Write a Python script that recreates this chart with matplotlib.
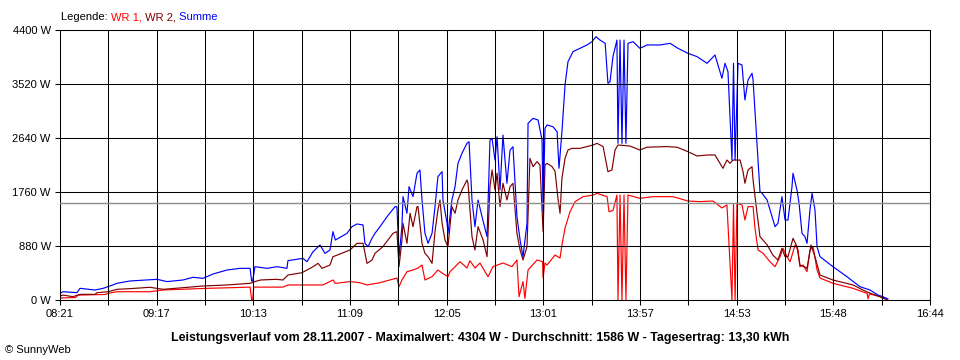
import matplotlib
matplotlib.use("Agg")
import matplotlib.pyplot as plt
import numpy as np

# ---- data (time in minutes since midnight, power in W) ----
wr1_t = [501.0, 510.0, 511.5, 527.0, 529.0, 534.0, 553.0, 560.6, 586.0, 599.3, 610.9, 611.8, 612.4, 613.0,
         629.9, 632.8, 653.1, 658.8, 660.2, 668.7, 674.4, 678.5, 686.0, 695.8, 697.0, 698.7, 701.6, 705.1,
         708.0, 710.3, 712.0, 716.1, 719.5, 721.9, 725.3, 726.5, 732.3, 736.3, 738.0, 740.9, 743.8, 746.7,
         748.5, 751.3, 757.1, 762.3, 765.2, 766.4, 768.7, 769.8, 771.6, 776.8, 780.0, 780.3, 781.4, 782.6,
         787.2, 790.1, 791.2, 793.0, 795.9, 798.8, 803.4, 809.2, 811.5, 817.3, 818.4, 820.7, 823.0, 823.6,
         824.8, 825.9, 827.1, 828.2, 829.4, 836.3, 843.8, 855.4, 864.1, 871.0, 878.5, 883.7, 886.6, 889.5,
         890.4, 891.3, 892.4, 895.3, 897.0, 898.8, 901.7, 902.8, 904.6, 907.5, 911.5, 914.4, 917.3, 919.0,
         921.3, 923.1, 926.0, 927.7, 928.8, 930.6, 932.9, 934.6, 936.4, 938.7, 940.4, 947.9, 959.5, 967.6,
         968.2, 969.0, 975.1, 979.1]
wr1_w = [33, 40, 80, 90, 110, 135, 135, 163, 190, 200, 210, 0, 0, 210,
         210, 245, 245, 326, 270, 300, 282, 245, 282, 358, 217, 326, 461, 489,
         521, 570, 326, 380, 489, 440, 380, 460, 624, 521, 640, 521, 603, 462,
         380, 543, 603, 543, 652, 54, 300, 27, 489, 652, 624, 358, 603, 570,
         733, 684, 896, 1173, 1440, 1603, 1684, 1710, 1738, 1684, 1440, 1457, 1711, 0,
         1711, 0, 1711, 0, 1711, 1657, 1684, 1684, 1613, 1603, 1613, 1500, 1549, 0,
         1560, 0, 1576, 1549, 1304, 1522, 1522, 1173, 815, 760, 624, 543, 706, 842,
         706, 624, 896, 815, 543, 570, 462, 815, 869, 489, 358, 272, 190, 108,
         20, 100, 54, 16]

wr2_t = [501.0, 502.7, 508.5, 512.6, 521.2, 522.4, 528.8, 534.0, 541.5, 553.0, 560.6, 574.4, 583.7, 597.6,
         610.9, 613.7, 617.0, 626.0, 629.9, 632.8, 640.9, 646.7, 650.2, 652.5, 657.1, 658.8, 660.2, 668.7,
         672.7, 676.2, 678.5, 681.4, 683.1, 687.7, 693.5, 695.8, 697.0, 698.7, 699.3, 701.6, 703.4, 705.1,
         707.4, 708.0, 710.3, 712.0, 713.8, 716.1, 717.8, 719.5, 720.7, 721.9, 723.6, 725.3, 727.6, 729.4,
         731.1, 733.4, 736.3, 736.9, 739.2, 740.9, 742.7, 745.6, 747.9, 749.6, 750.8, 752.5, 753.7, 755.4,
         757.1, 759.4, 761.2, 762.9, 765.2, 767.0, 768.7, 771.0, 772.7, 774.5, 776.8, 778.5, 780.3, 781.4,
         782.6, 785.5, 787.2, 788.9, 790.1, 791.2, 793.0, 794.7, 797.0, 801.6, 805.7, 809.2, 811.5, 815.0,
         817.8, 820.1, 821.9, 823.6, 830.6, 836.3, 840.4, 851.9, 857.7, 864.1, 869.3, 875.1, 879.7, 884.3,
         886.6, 888.4, 890.1, 894.2, 895.9, 897.0, 898.8, 901.1, 901.7, 904.0, 905.7, 909.8, 913.2, 916.1,
         918.4, 920.2, 921.9, 924.8, 927.1, 928.8, 931.2, 932.9, 935.2, 937.5, 940.4, 947.9, 959.5, 967.6,
         975.1, 976.8, 979.1]
wr2_w = [65, 80, 54, 92, 92, 119, 135, 174, 185, 207, 174, 207, 228, 245,
         272, 300, 326, 337, 326, 407, 445, 533, 597, 516, 570, 706, 720, 815,
         924, 924, 597, 652, 760, 869, 1086, 1114, 543, 977, 1250, 924, 1413, 1195,
         1521, 1521, 924, 760, 706, 597, 1114, 1467, 1630, 1250, 977, 869, 1521, 1413,
         1630, 1793, 1956, 1902, 1032, 815, 1195, 977, 706, 1847, 2119, 1793, 2065, 1521,
         1902, 1630, 1847, 1902, 1086, 815, 652, 869, 2309, 2173, 2254, 2200, 1114, 2200,
         2228, 2173, 2100, 1657, 1413, 1983, 2309, 2444, 2471, 2471, 2500, 2526, 2553, 2500,
         2091, 2119, 2444, 2526, 2509, 2444, 2490, 2500, 2490, 2417, 2347, 2363, 2363, 2146,
         2281, 2228, 2281, 2281, 2091, 1902, 2119, 2173, 1956, 1413, 1032, 900, 730, 652,
         842, 706, 706, 1005, 869, 570, 543, 516, 896, 706, 407, 326, 245, 130,
         54, 27, 10]

sum_t = [501.0, 502.7, 510.8, 512.6, 521.2, 525.9, 529.9, 534.0, 541.5, 551.3, 557.1, 562.9, 572.1, 577.9,
         583.7, 589.5, 597.6, 605.1, 610.9, 611.8, 612.4, 613.7, 620.7, 626.5, 632.2, 632.8, 641.5, 643.8,
         647.3, 651.3, 654.2, 657.1, 658.8, 660.2, 666.9, 669.8, 672.7, 676.2, 677.3, 679.1, 681.4, 683.1,
         686.0, 690.1, 694.7, 695.8, 697.0, 698.7, 699.3, 701.6, 702.8, 705.1, 707.4, 709.1, 710.3, 712.0,
         713.8, 716.1, 717.8, 719.5, 721.9, 722.4, 724.8, 725.3, 727.6, 729.4, 731.1, 733.4, 736.3, 737.5,
         739.2, 740.9, 742.7, 745.0, 747.9, 749.6, 750.8, 752.5, 753.7, 755.4, 757.1, 759.4, 761.2, 762.9,
         765.2, 767.0, 768.7, 771.0, 771.6, 774.5, 777.4, 779.7, 780.3, 781.4, 782.6, 786.0, 788.4, 789.5,
         791.2, 793.0, 794.7, 797.6, 801.6, 805.7, 808.6, 810.9, 813.2, 816.2, 817.8, 819.0, 820.7, 823.0,
         823.6, 824.8, 825.9, 827.1, 828.2, 829.4, 832.3, 836.3, 840.4, 847.9, 853.7, 858.3, 864.1, 869.3,
         875.1, 879.7, 883.7, 885.5, 887.2, 889.5, 890.4, 891.3, 893.0, 895.3, 897.0, 898.8, 901.1, 901.7,
         904.0, 905.7, 906.9, 909.8, 912.7, 914.4, 916.1, 918.4, 920.2, 921.9, 924.2, 924.8, 927.1, 928.3,
         930.0, 931.7, 932.9, 934.6, 935.8, 937.5, 938.7, 940.4, 947.9, 956.0, 963.5, 969.3, 974.0, 976.8,
         979.7]
sum_w = [108, 135, 120, 190, 163, 190, 228, 272, 310, 326, 337, 300, 326, 370,
         353, 424, 489, 516, 516, 310, 310, 543, 516, 543, 516, 641, 679, 624,
         787, 896, 760, 815, 1114, 977, 1086, 1195, 1239, 1223, 924, 869, 1005, 1086,
         1195, 1358, 1521, 1521, 706, 1195, 1684, 1413, 1847, 1684, 2065, 2119, 1630, 1086,
         924, 1086, 1521, 2010, 2092, 1630, 1250, 1086, 1630, 1847, 2228, 2390, 2553, 2580,
         1630, 1195, 1630, 1358, 1032, 2607, 2634, 2281, 2661, 1793, 2688, 1902, 2444, 2498,
         1358, 977, 706, 1250, 2879, 2960, 2933, 2607, 1440, 2797, 2852, 2824, 2743, 2146,
         2743, 3504, 3884, 4047, 4101, 4156, 4210, 4291, 4236, 4183, 3531, 3558, 3966, 4236,
         2553, 4236, 2553, 4236, 2553, 4183, 4210, 4101, 4156, 4156, 4183, 4101, 4020, 3966,
         3857, 3993, 3613, 3857, 3721, 2281, 3857, 2281, 3857, 3830, 3260, 3585, 3694, 3585,
         2553, 1765, 1739, 1630, 1358, 1195, 1250, 1684, 1304, 1304, 1847, 2065, 1793, 1576,
         1086, 1032, 924, 1467, 1739, 1467, 869, 706, 543, 380, 217, 163, 80, 54,
         16]

average_w = 1586
x_tick_labels = ["08:21", "09:17", "10:13", "11:09", "12:05", "13:01", "13:57", "14:53", "15:48", "16:44"]
x_start, x_end = 501, 1004          # 08:21 .. 16:44 in minutes
y_ticks = [0, 880, 1760, 2640, 3520, 4400]
y_tick_labels = ["0 W", "880 W", "1760 W", "2640 W", "3520 W", "4400 W"]
title = ("Leistungsverlauf vom 28.11.2007 - Maximalwert: 4304 W - Durchschnitt: 1586 W - "
         "Tagesertrag: 13,30 kWh")

plt.rcParams['font.family'] = ['Liberation Sans', 'DejaVu Sans']

fig = plt.figure(figsize=(9.6, 3.6), dpi=100)
ax = fig.add_axes([60 / 960, 60 / 360, 870 / 960, 270 / 360])

lw = 0.85
ax.plot(wr1_t, wr1_w, color='#ff0000', lw=lw, zorder=2)
ax.plot(wr2_t, wr2_w, color='#800000', lw=lw, zorder=2.1)
ax.plot(sum_t, sum_w, color='#0000ff', lw=lw, zorder=2.2)
ax.axhline(average_w, color='#8c8c8c', lw=1.0, zorder=2.6)

ax.set_xlim(x_start, x_end)
ax.set_ylim(0, 4400)
xt = np.linspace(x_start, x_end, 19)
ax.set_xticks(xt)
labels = []
for i in range(19):
    labels.append(x_tick_labels[i // 2] if i % 2 == 0 else "")
ax.set_xticklabels(labels)
ax.set_yticks(y_ticks)
ax.set_yticklabels(y_tick_labels)
ax.grid(True, color='black', lw=0.75)
ax.set_axisbelow(False)
for s in ax.spines.values():
    s.set_color('black')
    s.set_linewidth(0.75)
ax.tick_params(direction='out', length=3.6, width=0.75, colors='black', labelsize=8, pad=3)

# legend line at top
renderer = fig.canvas.get_renderer()
x = 61 / 960
y = 1 - 17 / 360
parts = [("Legende: ", 'black'), ("WR 1,", '#ff0000'), (" WR 2,", '#800000'), (" Summe", '#0000ff')]
for txt, col in parts:
    t = fig.text(x, y, txt, color=col, fontsize=8, va='center', ha='left')
    bb = t.get_window_extent(renderer=renderer)
    x += bb.width / 960

fig.text(480 / 960, 1 - 338 / 360, title, fontsize=8.9, fontweight='bold', ha='center', va='center')
fig.text(5 / 960, 1 - 350 / 360, "\u00a9 SunnyWeb", fontsize=8, ha='left', va='center')

fig.savefig("out.png", dpi=100, facecolor='white')
